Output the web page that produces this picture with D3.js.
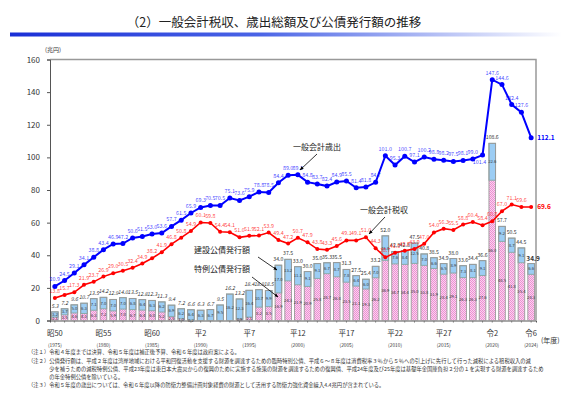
<!DOCTYPE html>
<html>
<head>
<meta charset="utf-8">
<script src="https://cdn.jsdelivr.net/npm/d3@7"></script>
<style>
  body { margin: 0; background: #fff; }
  svg { display: block; font-family: "Noto Sans CJK JP", "Noto Sans", sans-serif; }
</style>
</head>
<body>
<svg id="chart" width="567" height="397"></svg>
<script>
// fiscal years 1975 (昭50) .. 2024 (令6)
const years = [1975, 1976, 1977, 1978, 1979, 1980, 1981, 1982, 1983, 1984,
  1985, 1986, 1987, 1988, 1989, 1990, 1991, 1992, 1993, 1994,
  1995, 1996, 1997, 1998, 1999, 2000, 2001, 2002, 2003, 2004,
  2005, 2006, 2007, 2008, 2009, 2010, 2011, 2012, 2013, 2014,
  2015, 2016, 2017, 2018, 2019, 2020, 2021, 2022, 2023, 2024];

// 一般会計歳出 (兆円)
const expenditure = [20.9, 24.5, 29.1, 34.1, 38.8, 43.4, 46.9, 47.2, 50.6, 51.5,
  53.0, 53.6, 57.7, 61.5, 65.9, 69.3, 70.5, 70.5, 75.1, 73.6,
  75.9, 78.8, 78.5, 84.4, 89.0, 89.3, 84.8, 83.7, 82.4, 84.9,
  85.5, 81.4, 81.8, 84.7, 101.0, 95.3, 100.7, 97.1, 100.2, 98.8,
  98.2, 97.5, 98.1, 99.0, 101.4, 147.6, 144.6, 132.4, 127.6, 112.1];

// 一般会計税収 (兆円)
const taxRevenue = [13.8, 15.7, 17.3, 21.9, 23.7, 26.9, 29.0, 30.5, 32.4, 34.9,
  38.2, 41.9, 46.8, 50.8, 54.9, 60.1, 59.8, 54.4, 54.1, 51.0,
  51.9, 52.1, 53.9, 49.4, 47.2, 50.7, 47.9, 43.8, 43.3, 45.6,
  49.1, 49.1, 51.0, 44.3, 38.7, 41.5, 42.8, 43.9, 47.0, 54.0,
  56.3, 55.5, 58.8, 60.4, 58.4, 60.8, 67.0, 71.1, 69.6, 69.6];

// 建設公債発行額
const constructionBonds = [3.2, 3.7, 5.0, 6.3, 7.1, 7.0, 7.0, 7.0, 6.8, 6.4,
  6.3, 6.2, 6.9, 6.2, 6.4, 6.3, 6.7, 9.5, 16.2, 12.3,
  16.4, 10.7, 9.9, 17.0, 13.2, 11.1, 9.1, 9.1, 6.7, 8.7,
  7.8, 6.4, 6.0, 7.0, 15.0, 7.6, 8.4, 12.5, 7.0, 6.6,
  6.5, 8.9, 7.3, 8.1, 9.1, 22.6, 9.2, 8.7, 9.1, 6.6];

// 特例公債発行額
const specialBonds = [2.1, 3.5, 4.6, 4.3, 6.3, 7.2, 5.9, 7.0, 6.7, 6.4,
  6.0, 5.2, 2.5, 1.0, 0.2, 0, 0, 0, 0, 0.9,
  2.1, 8.2, 8.5, 16.9, 24.3, 21.9, 20.9, 25.8, 28.7, 26.8,
  23.5, 21.1, 19.3, 26.2, 36.9, 34.7, 34.4, 35.0, 33.8, 31.9,
  28.4, 29.1, 26.3, 26.3, 27.6, 86.0, 48.5, 41.8, 35.4, 28.3];

// 公債発行額 (labels above bars)
const totalBonds = [5.3, 7.2, 9.6, 10.7, 13.5, 14.2, 12.9, 14.0, 13.5, 12.8,
  12.3, 11.3, 9.4, 7.2, 6.6, 6.3, 6.7, 9.5, 16.2, 13.2,
  18.4, 18.9, 18.5, 34.0, 37.5, 33.0, 30.0, 35.0, 35.3, 35.5,
  31.3, 27.5, 25.4, 33.2, 52.0, 42.3, 42.8, 47.5, 40.8, 38.5,
  34.9, 38.0, 33.6, 34.4, 36.6, 108.6, 57.7, 50.5, 44.5, 34.9];

const tickYears = [1975, 1980, 1985, 1990, 1995, 2000, 2005, 2010, 2015, 2020, 2024];
const tickEra = ['昭50', '昭55', '昭60', '平2', '平7', '平12', '平17', '平22', '平27', '令2', '令6'];
const yTicks = [0, 20, 40, 60, 80, 100, 120, 140, 160];

const notes = [
  '（注１）令和４年度までは決算、令和５年度は補正後予算、令和６年度は政府案による。',
  '（注２）公債発行額は、平成２年度は湾岸地域における平和回復活動を支援する財源を調達するための臨時特別公債、平成６～８年度は消費税率３％から５％への引上げに先行して行った減税による租税収入の減',
  '　　　　少を補うための減税特例公債、平成23年度は東日本大震災からの復興のために実施する施策の財源を調達するための復興債、平成24年度及び25年度は基礎年金国庫負担２分の１を実現する財源を調達するため',
  '　　　　の年金特例公債を除いている。',
  '（注３）令和５年度の歳出については、令和６年度以降の防衛力整備計画対象経費の財源として活用する防衛力強化資金繰入4.4兆円が含まれている。'
];

const blue = '#0000ff';
const red = '#ff0000';
const plot = { left: 50, right: 536, top: 59.5, bottom: 320.5 };

const svg = d3.select('#chart');
const defs = svg.append('defs');

// title + gradient rule
const grad = defs.append('linearGradient').attr('id', 'titleRule');
grad.append('stop').attr('offset', '0%').attr('stop-color', '#1a2fd6');
grad.append('stop').attr('offset', '45%').attr('stop-color', '#4a64e6');
grad.append('stop').attr('offset', '100%').attr('stop-color', '#ffffff');

svg.append('text')
  .attr('x', 274).attr('y', 27)
  .attr('text-anchor', 'middle')
  .style('font-size', '12.5px')
  .attr('fill', '#222')
  .text('（2）一般会計税収、歳出総額及び公債発行額の推移');
svg.append('rect')
  .attr('x', 10).attr('y', 32.5).attr('width', 552).attr('height', 4)
  .attr('fill', 'url(#titleRule)');

// pink dotted pattern for 特例公債
const pat = defs.append('pattern')
  .attr('id', 'dots')
  .attr('patternUnits', 'userSpaceOnUse')
  .attr('width', 2).attr('height', 2);
pat.append('rect').attr('width', 2).attr('height', 2).attr('fill', '#fbd3ef');
pat.append('rect').attr('width', 1).attr('height', 1).attr('fill', '#ec8fd2');
pat.append('rect').attr('x', 1).attr('y', 1).attr('width', 1).attr('height', 1).attr('fill', '#ec8fd2');

defs.append('marker')
  .attr('id', 'arrow')
  .attr('viewBox', '0 0 10 10')
  .attr('refX', 9).attr('refY', 5)
  .attr('markerWidth', 5).attr('markerHeight', 5)
  .attr('orient', 'auto')
  .append('path').attr('d', 'M0,1 L10,5 L0,9 Z').attr('fill', '#000');

const x = d3.scaleBand()
  .domain(years)
  .range([plot.left, plot.right])
  .paddingInner(0.32)
  .paddingOuter(0.16);
const bw = x.bandwidth();
const cx = yr => x(yr) + bw / 2;

const y = d3.scaleLinear().domain([0, 160]).range([plot.bottom, plot.top]);

// frame
svg.append('path')
  .attr('d', `M${plot.left},${plot.top}H${plot.right}V${plot.bottom}`)
  .attr('fill', 'none').attr('stroke', '#999').attr('stroke-width', 1.5);

// y axis
const yAxis = svg.append('g')
  .attr('transform', `translate(${plot.left},0)`)
  .call(d3.axisLeft(y).tickValues(yTicks).tickSize(3).tickPadding(7));
yAxis.select('.domain').attr('stroke', '#555');
yAxis.selectAll('.tick line').attr('stroke', '#555');
yAxis.selectAll('.tick text')
  .style('font-size', '8px').attr('fill', '#333')
  .style('font-family', '"Noto Sans CJK JP", sans-serif');

svg.append('text')
  .attr('x', 45).attr('y', 52)
  .style('font-size', '6px').attr('fill', '#333')
  .text('(兆円)');

// x axis
const xAxis = svg.append('g')
  .attr('transform', `translate(0,${plot.bottom})`)
  .call(d3.axisBottom(x).tickValues(years).tickSize(2).tickFormat(''));
xAxis.select('.domain').attr('stroke', '#555');
xAxis.selectAll('.tick line').attr('stroke', '#777');

const tickG = svg.append('g').selectAll('g')
  .data(tickYears)
  .join('g')
  .attr('transform', d => `translate(${cx(d)},0)`);
tickG.append('text')
  .attr('y', 336)
  .attr('text-anchor', 'middle')
  .style('font-size', '7.5px').attr('fill', '#333')
  .text((d, i) => tickEra[i]);
tickG.append('text')
  .attr('y', 347)
  .attr('text-anchor', 'middle')
  .style('font-size', '4.8px').attr('fill', '#333')
  .text(d => `(${d})`);
svg.append('text')
  .attr('x', 541).attr('y', 343)
  .style('font-size', '7px').attr('fill', '#333')
  .text('(年度)');

// stacked bond bars
const bars = svg.append('g').selectAll('g')
  .data(years)
  .join('g');
bars.append('rect')
  .attr('x', d => x(d))
  .attr('width', bw)
  .attr('y', (d, i) => y(specialBonds[i]))
  .attr('height', (d, i) => y(0) - y(specialBonds[i]))
  .attr('fill', 'url(#dots)');
bars.append('rect')
  .attr('x', d => x(d))
  .attr('width', bw)
  .attr('y', (d, i) => y(specialBonds[i] + constructionBonds[i]))
  .attr('height', (d, i) => y(specialBonds[i]) - y(specialBonds[i] + constructionBonds[i]))
  .attr('fill', '#9ccdf4')
  .attr('stroke', '#8aa', 'stroke-width', 0.4);
bars.append('rect')
  .attr('x', d => x(d))
  .attr('width', bw)
  .attr('y', (d, i) => y(specialBonds[i] + constructionBonds[i]))
  .attr('height', (d, i) => y(0) - y(specialBonds[i] + constructionBonds[i]))
  .attr('fill', 'none')
  .attr('stroke', '#9a9a9a')
  .attr('stroke-width', 0.9);

// inner labels
bars.append('text')
  .attr('x', d => cx(d))
  .attr('y', (d, i) => y(specialBonds[i] + constructionBonds[i] / 2))
  .attr('dy', '0.35em')
  .attr('text-anchor', 'middle')
  .style('font-size', '4.2px').attr('fill', '#333')
  .text((d, i) => constructionBonds[i].toFixed(1));
bars.filter((d, i) => specialBonds[i] > 0)
  .append('text')
  .attr('x', d => cx(d))
  .attr('y', d => y(specialBonds[years.indexOf(d)] / 2))
  .attr('dy', '0.35em')
  .attr('text-anchor', 'middle')
  .style('font-size', '4.2px').attr('fill', '#333')
  .text(d => specialBonds[years.indexOf(d)].toFixed(1));
// totals above bars
bars.append('text')
  .attr('x', (d, i) => cx(d) + (d === 2024 ? 2 : 0))
  .attr('y', (d, i) => y(specialBonds[i] + constructionBonds[i]) - (d === 2024 ? 2.5 : 4))
  .attr('text-anchor', 'middle')
  .style('font-size', d => d === 2024 ? '6.5px' : '5.2px')
  .style('font-weight', d => d === 2024 ? 'bold' : 'normal')
  .style('font-style', d => d < 1998 ? 'italic' : 'normal')
  .attr('fill', '#333')
  .text((d, i) => totalBonds[i].toFixed(1));

// lines
function drawSeries(values, color, r, width) {
  const pts = years.map((yr, i) => [cx(yr), y(values[i])]);
  svg.append('path')
    .attr('d', d3.line()(pts))
    .attr('fill', 'none')
    .attr('stroke', color)
    .attr('stroke-width', width);
  svg.append('g').selectAll('circle')
    .data(pts)
    .join('circle')
    .attr('cx', d => d[0]).attr('cy', d => d[1])
    .attr('r', r).attr('fill', color);
  const lab = svg.append('g').selectAll('text')
    .data(values.slice(0, -1))
    .join('text')
    .attr('x', (d, i) => pts[i][0])
    .attr('y', (d, i) => pts[i][1] - 5)
    .attr('text-anchor', 'middle')
    .style('font-size', '5.4px')
    .attr('fill', color)
    .attr('fill-opacity', 0.75)
    .text(d => d.toFixed(1));
  const last = values.length - 1;
  svg.append('text')
    .attr('x', pts[last][0] + 6).attr('y', pts[last][1])
    .attr('dy', '0.35em')
    .style('font-size', '6.5px').style('font-weight', 'bold')
    .attr('fill', color)
    .text(values[last].toFixed(1));
  return lab;
}
drawSeries(taxRevenue, red, 2, 1.6);
const expLabels = drawSeries(expenditure, blue, 2.5, 2);
// 2019 expenditure label sits below-left of its point
expLabels.filter((d, i) => years[i] === 2019)
  .attr('x', cx(2019) - 3)
  .attr('y', y(expenditure[years.indexOf(2019)]) + 9);

// annotations
const notesText = [
  { text: '一般会計歳出', x: 293, y: 150, from: [317, 154], to: [300, 170] },
  { text: '一般会計税収', x: 360, y: 213, from: [385, 217], to: [369, 234] },
  { text: '建設公債発行額', x: 194, y: 253, from: [258, 257], to: [277, 270] },
  { text: '特例公債発行額', x: 194, y: 272, from: [252, 277], to: [278, 297] }
];
const ann = svg.append('g').selectAll('g').data(notesText).join('g');
ann.append('text')
  .attr('x', d => d.x).attr('y', d => d.y)
  .style('font-size', '8px').attr('fill', '#222')
  .text(d => d.text);
ann.append('line')
  .attr('x1', d => d.from[0]).attr('y1', d => d.from[1])
  .attr('x2', d => d.to[0]).attr('y2', d => d.to[1])
  .attr('stroke', '#000').attr('stroke-width', 0.8)
  .attr('marker-end', 'url(#arrow)');

// footnotes
svg.append('g').selectAll('text')
  .data(notes)
  .join('text')
  .attr('x', 28)
  .attr('y', (d, i) => [354, 363, 371, 379, 387][i])
  .style('font-size', '5.3px')
  .attr('fill', '#333')
  .text(d => d);
</script>
</body>
</html>
